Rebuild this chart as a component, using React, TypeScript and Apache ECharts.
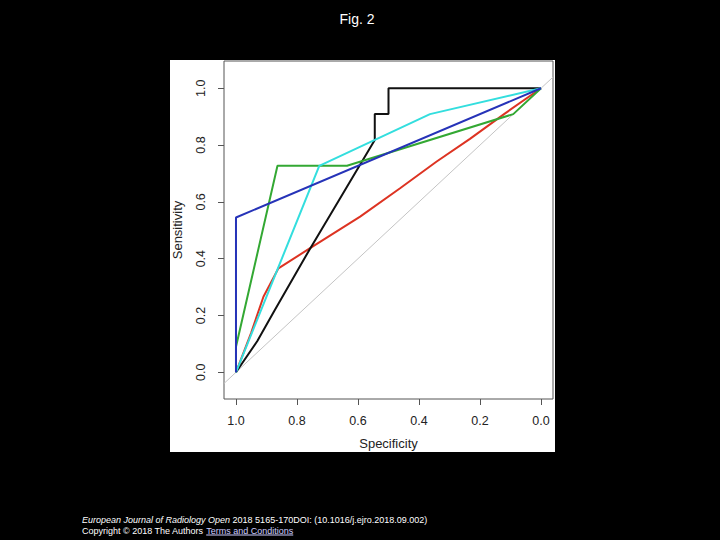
import React, { useEffect, useRef } from "react";
import * as echarts from "echarts";

const tickValues = [0, 0.2, 0.4, 0.6, 0.8, 1.0];

// [specificity, sensitivity]
const blackCurve: number[][] = [
  [1, 0], [0.93, 0.11], [0.875, 0.215], [0.76, 0.43], [0.66, 0.61], [0.545, 0.818],
  [0.545, 0.909], [0.5, 0.909], [0.5, 1.0], [0, 1.0],
];
const redCurve: number[][] = [
  [1, 0], [0.95, 0.14], [0.91, 0.266], [0.861, 0.366], [0.757, 0.437], [0.593, 0.548],
  [0.462, 0.648], [0.342, 0.742], [0.233, 0.822], [0.12, 0.91], [0, 1.0],
];
const greenCurve: number[][] = [
  [1, 0], [1, 0.09], [0.864, 0.727], [0.636, 0.727], [0.091, 0.909], [0, 1.0],
];
const cyanCurve: number[][] = [
  [1, 0], [0.727, 0.727], [0.364, 0.909], [0, 1.0],
];
const blueCurve: number[][] = [
  [1, 0], [1, 0.545], [0, 1.0],
];
const diagonal: number[][] = [
  [1.0393, -0.0393], [-0.0393, 1.0393],
];

const titleText = "Fig. 2";
const footerJournal = "European Journal of Radiology Open";
const footerRest = " 2018 5165-170DOI: (10.1016/j.ejro.2018.09.002)";
const footerCopy = "Copyright © 2018 The Authors ";
const footerLink = "Terms and Conditions";

const FONT = "Liberation Sans, Arial, sans-serif";

function measure(text: string, size: number): number {
  const c = document.createElement("canvas").getContext("2d");
  if (!c) return text.length * size * 0.5;
  c.font = `${size}px "Liberation Sans", Arial, sans-serif`;
  return c.measureText(text).width;
}

export default function App() {
  const ref = useRef<HTMLDivElement>(null);
  useEffect(() => {
    if (!ref.current) return;
    const chart = echarts.init(ref.current, null, { renderer: "svg" });
    const line = (data: number[][], color: string, width = 2) => ({
      type: "line",
      data,
      showSymbol: false,
      symbol: "none",
      lineStyle: { color, width },
      silent: true,
    });
    const fs = 9;
    const linkStart = 82 + measure(footerCopy, fs);
    const linkEnd = linkStart + measure(footerLink, fs);
    chart.setOption({
      animation: false,
      backgroundColor: "#000000",
      grid: {
        left: 224, top: 61, width: 329, height: 338,
        show: true, backgroundColor: "transparent", borderColor: "#555555", borderWidth: 1,
        outerBoundsMode: "none", containLabel: false,
      },
      graphic: [
        { type: "rect", z: -10, shape: { x: 170, y: 60, width: 385, height: 392 }, style: { fill: "#ffffff" } },
        {
          type: "text", x: 357, y: 19,
          style: { text: titleText, fill: "#ffffff", fontSize: 14, fontFamily: FONT, align: "center", verticalAlign: "middle" },
        },
        {
          type: "text", x: 82, y: 519.5,
          style: {
            text: "{i|" + footerJournal + "}{n|" + footerRest + "}",
            verticalAlign: "middle",
            rich: {
              i: { fill: "#ffffff", fontSize: fs, fontStyle: "italic", fontFamily: FONT },
              n: { fill: "#ffffff", fontSize: fs, fontFamily: FONT },
            },
          },
        },
        {
          type: "text", x: 82, y: 530.5,
          style: {
            text: "{n|" + footerCopy + "}{l|" + footerLink + "}",
            verticalAlign: "middle",
            rich: {
              n: { fill: "#ffffff", fontSize: fs, fontFamily: FONT },
              l: { fill: "#ccccff", fontSize: fs, fontFamily: FONT },
            },
          },
        },
        { type: "line", shape: { x1: linkStart, y1: 535, x2: linkEnd, y2: 535 }, style: { stroke: "#ccccff", lineWidth: 1 } },
      ],
      xAxis: {
        type: "value",
        inverse: true,
        min: -0.0393,
        max: 1.0393,
        name: "Specificity",
        nameLocation: "middle",
        nameGap: 38,
        nameTextStyle: { color: "#222222", fontSize: 13, fontFamily: FONT },
        axisLine: { show: false, onZero: false },
        splitLine: { show: false },
        axisTick: { show: true, inside: false, length: 6, lineStyle: { color: "#555555" }, customValues: tickValues },
        axisLabel: {
          color: "#222222", fontSize: 12.5, fontFamily: FONT, margin: 15,
          customValues: tickValues,
          formatter: (v: number) => v.toFixed(1),
        },
      },
      yAxis: {
        type: "value",
        min: -0.094,
        max: 1.096,
        name: "Sensitivity",
        nameLocation: "middle",
        nameRotate: 90,
        nameGap: 40,
        nameTextStyle: { color: "#222222", fontSize: 13, fontFamily: FONT },
        axisLine: { show: false, onZero: false },
        splitLine: { show: false },
        axisTick: { show: true, inside: false, length: 6, lineStyle: { color: "#555555" }, customValues: tickValues },
        axisLabel: {
          color: "#222222", fontSize: 12.5, fontFamily: FONT, margin: 17, rotate: 90,
          customValues: tickValues,
          formatter: (v: number) => v.toFixed(1),
        },
      },
      series: [
        line(diagonal, "#c4c4c4", 1),
        line(redCurve, "#dd3322"),
        line(blackCurve, "#111111"),
        line(greenCurve, "#33a833"),
        line(cyanCurve, "#33dede"),
        line(blueCurve, "#2633b8"),
      ],
    });
    return () => chart.dispose();
  }, []);
  return (
    <div
      ref={ref}
      style={{ position: "absolute", left: 0, top: 0, width: 720, height: 540 }}
    />
  );
}
